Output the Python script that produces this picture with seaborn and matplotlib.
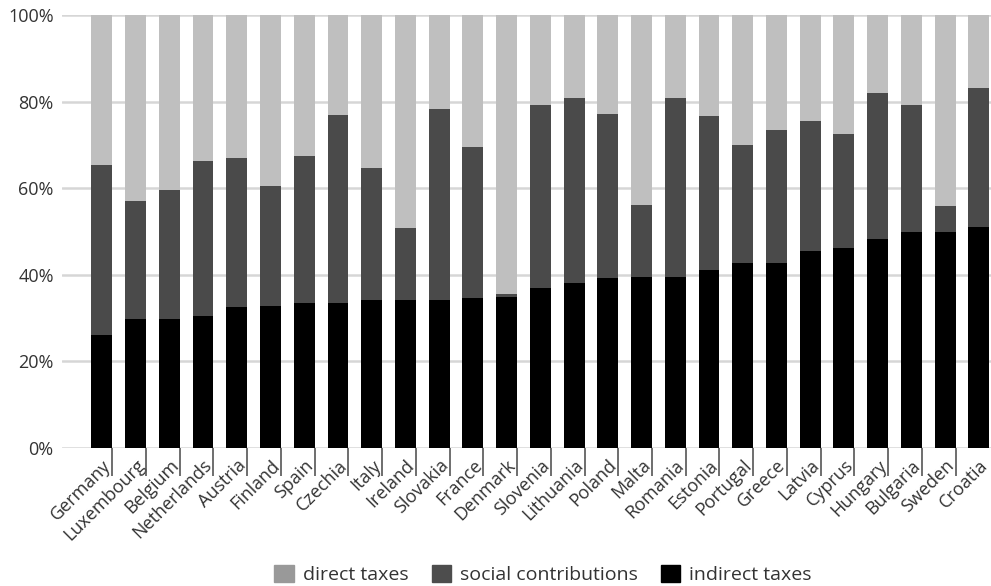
import numpy as np
import pandas as pd
import matplotlib
matplotlib.use("Agg")
import matplotlib.pyplot as plt
from matplotlib.patches import Patch
import seaborn as sns

countries = ["Germany", "Luxembourg", "Belgium", "Netherlands", "Austria", "Finland",
             "Spain", "Czechia", "Italy", "Ireland", "Slovakia", "France", "Denmark",
             "Slovenia", "Lithuania", "Poland", "Malta", "Romania", "Estonia", "Portugal",
             "Greece", "Latvia", "Cyprus", "Hungary", "Bulgaria", "Sweden", "Croatia"]

# shares of total tax revenue, %
indirect_taxes = [26.2, 29.7, 29.9, 30.5, 32.6, 32.8, 33.5, 33.5, 34.1, 34.1, 34.1, 34.7, 34.8,
                  36.9, 38.0, 39.3, 39.6, 39.6, 41.2, 42.8, 42.8, 45.5, 46.2, 48.2, 49.8, 49.8, 51.0]
social_contributions = [39.2, 27.3, 29.6, 35.7, 34.4, 27.6, 33.9, 43.5, 30.6, 16.7, 44.3, 34.9, 0.7,
                        42.2, 42.8, 37.8, 16.6, 41.2, 35.5, 27.1, 30.6, 30.1, 26.4, 33.9, 29.3, 6.0, 32.1]
direct_taxes = [34.6, 43.0, 40.5, 33.8, 33.0, 39.6, 32.6, 23.0, 35.3, 49.2, 21.6, 30.4, 64.5,
                20.9, 19.2, 22.9, 43.8, 19.2, 23.3, 30.1, 26.6, 24.4, 27.4, 17.9, 20.9, 44.2, 16.9]

y_ticks = [0, 20, 40, 60, 80, 100]
y_labels = ["0%", "20%", "40%", "60%", "80%", "100%"]

df = pd.DataFrame({"country": countries,
                   "indirect": indirect_taxes,
                   "social": social_contributions,
                   "direct": direct_taxes})
df["lvl1"] = df["indirect"]
df["lvl2"] = df["indirect"] + df["social"]
df["lvl3"] = df["lvl2"] + df["direct"]

sns.set_style("white")
plt.rcParams["font.family"] = ["Open Sans", "DejaVu Sans"]
plt.rcParams["text.color"] = "#333333"

fig = plt.figure(figsize=(9.91, 5.86), dpi=100)
ax = fig.add_axes([0.0626, 0.2355, 0.9374, 0.7389])

w = 0.62
kw = dict(data=df, x="country", width=w, saturation=1, linewidth=0, ax=ax, zorder=3)
sns.barplot(y="lvl3", color="#bfbfbf", **kw)
sns.barplot(y="lvl2", color="#4a4a4a", **kw)
sns.barplot(y="lvl1", color="#000000", **kw)

n = len(countries)
ax.set_ylim(0, 100)
ax.set_xlim(-1.18, n - 1 + 0.36)
ax.set_yticks(y_ticks, y_labels)
ax.yaxis.grid(True, color="#d6d6d6", linewidth=1.8, zorder=0)
ax.xaxis.grid(False)
for s in ax.spines.values():
    s.set_visible(False)
ax.set_xlabel("")
ax.set_ylabel("")

ax.tick_params(axis="y", length=0, pad=6, labelsize=13, labelcolor="#333333")

# labels at bar centres
ax.set_xticks(np.arange(n), countries)
ax.tick_params(axis="x", which="major", length=0, pad=6,
               labelsize=13, labelcolor="#333333")
for lab in ax.get_xticklabels():
    lab.set_rotation(45)
    lab.set_ha("right")
    lab.set_rotation_mode("anchor")

# short separator ticks hanging below the right edge of each bar
ax.set_xticks(np.arange(n - 1) + w / 2, minor=True)
ax.tick_params(axis="x", which="minor", bottom=True, length=20, width=1.2,
               color="#555555", direction="out")

handles = [Patch(color="#999999", label="direct taxes"),
           Patch(color="#4d4d4d", label="social contributions"),
           Patch(color="#000000", label="indirect taxes")]
fig.legend(handles=handles, loc="center", bbox_to_anchor=(0.548, 0.019), ncol=3,
           frameon=False, fontsize=14, handlelength=1.0, handleheight=0.9,
           handletextpad=0.45, columnspacing=1.2, borderpad=0)

fig.savefig("out.png", dpi=100)
